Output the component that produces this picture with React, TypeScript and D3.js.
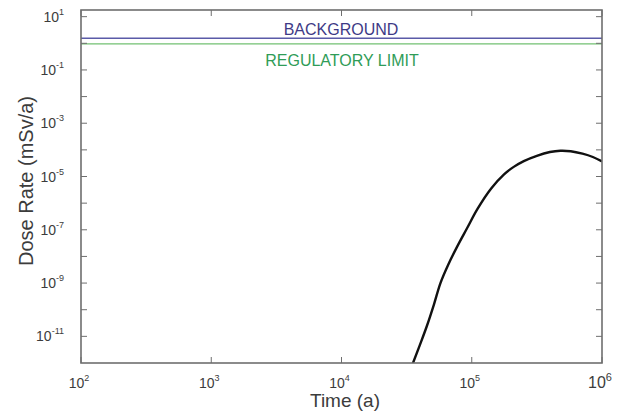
import React from 'react';
import * as d3 from 'd3';

// dose curve (time in years, dose in mSv/a)
const doseTimes = [3.16e4, 3.54e4, 3.98e4, 4.53e4, 5.13e4, 5.75e4, 6.61e4, 7.69e4, 9.18e4, 1.11e5, 1.41e5, 1.77e5, 2.1e5, 2.51e5, 3.16e5, 3.98e5, 4.79e5, 5.75e5, 7.08e5, 8.51e5, 1.0e6];
const doseRates = [2.5e-13, 1.0e-12, 4.5e-12, 2.5e-11, 1.6e-10, 1.0e-9, 5.0e-9, 2.24e-8, 1.12e-7, 6.2e-7, 3.55e-6, 1.2e-5, 2.3e-5, 3.8e-5, 6.0e-5, 8.3e-5, 9.3e-5, 8.9e-5, 7.2e-5, 5.4e-5, 3.7e-5];

// horizontal reference levels
const levelNames = ['BACKGROUND', 'REGULATORY LIMIT'];
const levelValues = [1.55, 0.95];
const levelColors = ['#5a5aa8', '#72c072'];
const levelTextColors = ['#3e3a86', '#2f9c57'];

const xTicks = [1e2, 1e3, 1e4, 1e5, 1e6];
const yMinorTicks = [1e1, 1, 1e-1, 1e-2, 1e-3, 1e-4, 1e-5, 1e-6, 1e-7, 1e-8, 1e-9, 1e-10, 1e-11];
const yLabelTicks = [1e1, 1e-1, 1e-3, 1e-5, 1e-7, 1e-9, 1e-11];

const W = 623, H = 417;
const margin = { top: 10, right: 21, bottom: 54, left: 81 };

export default function App() {
  const x = d3.scaleLog().domain([1e2, 1e6]).range([margin.left, W - margin.right]);
  const y = d3.scaleLog().domain([1e-12, 17.8]).range([H - margin.bottom, margin.top]);
  const pts = doseTimes.map((t, i) => [t, doseRates[i]] as [number, number]);
  const line = d3.line<[number, number]>()
    .x(d => x(d[0]))
    .y(d => y(d[1]))
    .curve(d3.curveCatmullRom.alpha(0.5));

  const axisColor = '#6e6e6e';
  const textColor = '#3c3c3c';
  const x0 = margin.left, x1 = W - margin.right, y0 = H - margin.bottom, y1 = margin.top;
  const exp = (v: number) => Math.round(Math.log10(v));

  return (
    <svg width={W} height={H} style={{ position: 'absolute', left: 0, top: 0, fontFamily: 'Liberation Sans, Arial, sans-serif' }}>
      <defs>
        <clipPath id="plot">
          <rect x={x0} y={y1} width={x1 - x0} height={y0 - y1} />
        </clipPath>
      </defs>
      <rect width={W} height={H} fill="#fff" />

      {levelValues.map((v, i) => (
        <line key={'l' + i} x1={x0} x2={x1} y1={y(v)} y2={y(v)} stroke={levelColors[i]} strokeWidth={1.3} />
      ))}
      <text x={341} y={y(levelValues[0]) - 3} textAnchor="middle" fontSize={16} fill={levelTextColors[0]}>{levelNames[0]}</text>
      <text x={342} y={y(levelValues[1]) + 22} textAnchor="middle" fontSize={16} fill={levelTextColors[1]}>{levelNames[1]}</text>

      <path d={line(pts) || ''} fill="none" stroke="#111" strokeWidth={2.4} clipPath="url(#plot)" />

      {/* frame */}
      <rect x={x0} y={y1} width={x1 - x0} height={y0 - y1} fill="none" stroke={axisColor} strokeWidth={1.6} />

      {/* x ticks (bottom & top) */}
      {xTicks.map((t, i) => (
        <g key={'xt' + i}>
          <line x1={x(t)} x2={x(t)} y1={y0} y2={y0 - 6} stroke={axisColor} strokeWidth={1} />
          <line x1={x(t)} x2={x(t)} y1={y1} y2={y1 + 6} stroke={axisColor} strokeWidth={1} />
          <text x={x(t) - 2} y={388} textAnchor="middle" fontSize={t === 1e6 ? 16 : 14} fill={textColor}>
            10<tspan dy={-7} fontSize={t === 1e6 ? 11 : 9}>{exp(t)}</tspan>
          </text>
        </g>
      ))}

      {/* y ticks (left & right) */}
      {yMinorTicks.map((t, i) => (
        <g key={'yt' + i}>
          <line x1={x0} x2={x0 + 6} y1={y(t)} y2={y(t)} stroke={axisColor} strokeWidth={1} />
          <line x1={x1} x2={x1 - 6} y1={y(t)} y2={y(t)} stroke={axisColor} strokeWidth={1} />
        </g>
      ))}
      {yLabelTicks.map((t, i) => (
        <text key={'yl' + i} x={64} y={y(t) + 5} textAnchor="end" fontSize={14} fill={textColor}>
          10<tspan dy={-7} fontSize={9}>{exp(t)}</tspan>
        </text>
      ))}

      <text x={345} y={407} textAnchor="middle" fontSize={19} fill={textColor}>Time (a)</text>
      <text transform="translate(33,181) rotate(-90)" textAnchor="middle" fontSize={20} fill={textColor}>Dose Rate (mSv/a)</text>
    </svg>
  );
}
